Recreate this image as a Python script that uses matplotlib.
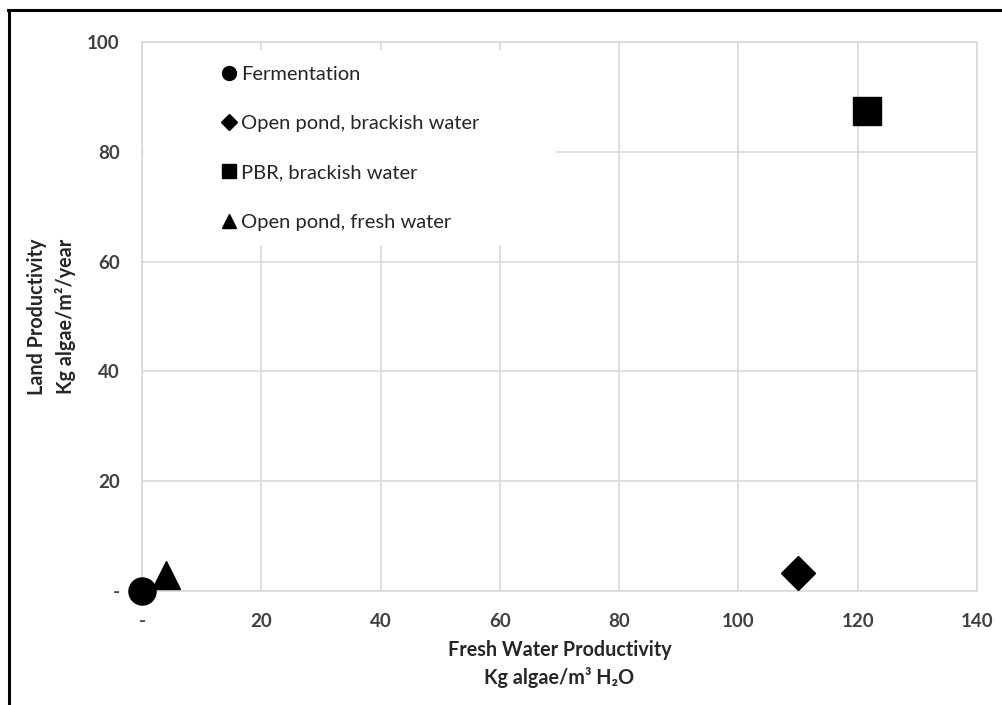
import matplotlib
matplotlib.use('Agg')
import matplotlib.pyplot as plt
from matplotlib.lines import Line2D
from matplotlib.patches import Rectangle
from matplotlib.ticker import FuncFormatter

plt.rcParams['font.family'] = ['Lato', 'DejaVu Sans']

# data
series = ['Fermentation', 'Open pond, brackish water', 'PBR, brackish water', 'Open pond, fresh water']
water_prod = [0, 110, 121.5, 4]      # kg algae / m3 H2O
land_prod = [0, 3.2, 87.5, 3.0]      # kg algae / m2 / year
markers = ['o', 'D', 's', '^']
sizes = [19.5, 17.3, 19.5, 19.5]

x_ticks = [0, 20, 40, 60, 80, 100, 120, 140]
y_ticks = [0, 20, 40, 60, 80, 100]

grid_c = '#d9d9d9'
tick_c = '#404040'
title_c = '#262626'

fig = plt.figure(figsize=(10.02, 7.05), dpi=100)
ax = fig.add_axes([0.1417, 0.1617, 0.8333, 0.7787])

for name, x, y, m, s in zip(series, water_prod, land_prod, markers, sizes):
    ax.plot([x], [y], linestyle='none', marker=m, markersize=s, color='black',
            label=name, zorder=5, clip_on=False)

ax.set_xlim(0, 140)
ax.set_ylim(0, 100)
ax.set_xticks(x_ticks)
ax.set_yticks(y_ticks)
fmt = FuncFormatter(lambda v, p: '-' if v == 0 else f'{v:.0f}')
ax.xaxis.set_major_formatter(fmt)
ax.yaxis.set_major_formatter(fmt)
ax.tick_params(length=0, labelsize=13.5, labelcolor=tick_c)
ax.tick_params(axis='x', pad=16)
ax.tick_params(axis='y', pad=16)
for lab in ax.get_xticklabels() + ax.get_yticklabels():
    lab.set_fontweight('bold')

ax.grid(True, color=grid_c, linewidth=1.2, zorder=0)
ax.set_axisbelow(True)
for sp in ax.spines.values():
    sp.set_color(grid_c)
    sp.set_linewidth(1.2)

ax.set_xlabel('Fresh Water Productivity\nKg algae/m³ H₂O', fontsize=14.2,
              fontweight='bold', color=title_c, linespacing=1.45)
ax.set_ylabel('Land Productivity\nKg algae/m²/year', fontsize=14.2,
              fontweight='bold', color=title_c, linespacing=1.45)
ax.xaxis.label.set_va('center')
ax.yaxis.label.set_va('center')
ax.xaxis.set_label_coords(0.5, -0.133)
ax.yaxis.set_label_coords(-0.108, 0.5)

# white area behind the legend (hides the grid there)
ax.add_patch(Rectangle((0.003, 0.63), 0.493, 0.355, transform=ax.transAxes,
                       facecolor='white', edgecolor='none', zorder=2))

handles = [Line2D([], [], linestyle='none', marker=m, markersize=10 if m != 'D' else 8.5,
                  color='black') for m in markers]
leg = ax.legend(handles, series, loc='upper left', bbox_to_anchor=(0.085, 0.975),
                frameon=False, fontsize=14.5, handlelength=0.6, handletextpad=0.3,
                labelspacing=1.6, borderpad=0, labelcolor=title_c)
leg.set_zorder(6)

# black border at top and left
fig.add_artist(Line2D([0.008, 1.0], [0.986, 0.986], color='black', linewidth=2.2,
                      transform=fig.transFigure))
fig.add_artist(Line2D([0.009, 0.009], [0.0, 0.986], color='black', linewidth=2.2,
                      transform=fig.transFigure))

fig.savefig('out.png', dpi=100)
